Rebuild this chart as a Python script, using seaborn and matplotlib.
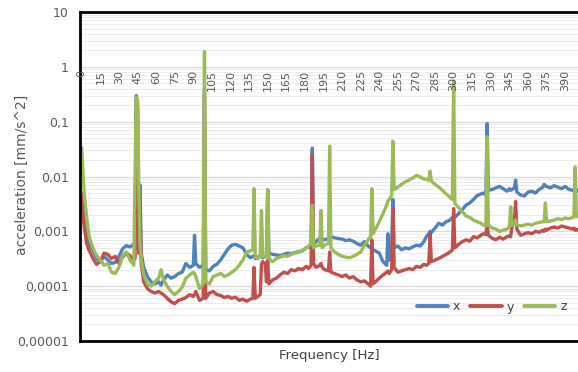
import matplotlib
matplotlib.use('Agg')
import pandas as pd
import matplotlib.pyplot as plt
import seaborn as sns
from matplotlib.lines import Line2D
from matplotlib.transforms import offset_copy

# frequency points [Hz]
freq = [0, 1, 2, 4, 6, 9, 12, 15, 18, 21,
        24, 27, 30, 33, 36, 39, 42, 43, 44, 45,
        46, 47, 48, 50, 53, 56, 59, 62, 64, 66,
        69, 72, 75, 78, 81, 84, 87, 90, 91, 92,
        95, 98, 99, 100, 103, 106, 109, 112, 115, 118,
        121, 124, 127, 130, 133, 136, 138, 139, 140, 142,
        144, 145, 146, 148, 149, 150, 151, 154, 157, 160,
        163, 166, 169, 172, 175, 178, 181, 183, 185, 186,
        187, 189, 192, 193, 194, 196, 199, 200, 201, 204,
        207, 210, 213, 216, 219, 222, 225, 228, 231, 233,
        234, 235, 237, 240, 243, 246, 247, 248, 250, 251,
        252, 255, 258, 261, 264, 267, 270, 273, 276, 278,
        280, 281, 282, 285, 288, 291, 294, 297, 299, 300,
        301, 304, 307, 310, 313, 316, 319, 322, 324, 326,
        327, 328, 331, 334, 337, 340, 343, 345, 346, 347,
        349, 350, 351, 354, 357, 360, 363, 366, 369, 372,
        373, 374, 375, 378, 381, 384, 387, 390, 393, 396,
        397, 398, 399, 400]

# acceleration x [mm/s^2]
acc_x = [5e-3, 2.5e-3, 1.5e-3, 8e-4, 6e-4, 4.5e-4, 3.2e-4, 2.8e-4, 3.5e-4, 3.0e-4,
         2.6e-4, 2.7e-4, 3.5e-4, 4.8e-4, 5.5e-4, 5.2e-4, 5.8e-4, 5.0e-4, 0.3, 0.22,
         6e-4, 7e-3, 4e-4, 2.2e-4, 1.5e-4, 1.2e-4, 1.1e-4, 1.2e-4, 1.05e-4, 1.3e-4,
         1.6e-4, 1.4e-4, 1.5e-4, 1.7e-4, 1.8e-4, 2.6e-4, 2.2e-4, 2.4e-4, 8.5e-4, 2.6e-4,
         2.2e-4, 2.4e-4, 0.4, 2.0e-4, 1.9e-4, 2.3e-4, 2.5e-4, 3.0e-4, 3.8e-4, 4.8e-4,
         5.6e-4, 5.8e-4, 5.4e-4, 5.0e-4, 3.8e-4, 3.3e-4, 3.5e-4, 3.6e-4, 3.2e-4, 3.4e-4,
         3.6e-4, 3.8e-4, 3.3e-4, 3.5e-4, 3.6e-4, 5.7e-3, 4.0e-4, 3.8e-4, 3.7e-4, 3.6e-4,
         3.8e-4, 4.0e-4, 3.9e-4, 4.1e-4, 4.3e-4, 4.4e-4, 5.0e-4, 5.2e-4, 5.0e-4, 0.033,
         6.0e-4, 6.5e-4, 7.5e-4, 8.0e-4, 7.2e-4, 7.0e-4, 7.4e-4, 7.8e-4, 8.0e-4, 7.6e-4,
         7.4e-4, 7.2e-4, 6.8e-4, 7.0e-4, 6.6e-4, 6.0e-4, 5.6e-4, 6.5e-4, 5.4e-4, 5.0e-4,
         4.8e-4, 4.6e-4, 4.4e-4, 4.0e-4, 2.8e-4, 2.4e-4, 9.0e-4, 3.0e-4, 4.0e-4, 3.8e-3,
         5.0e-4, 5.4e-4, 4.6e-4, 5.0e-4, 4.8e-4, 5.2e-4, 5.6e-4, 5.4e-4, 6.5e-4, 8.0e-4,
         9.0e-4, 1.0e-3, 9.5e-4, 1.15e-3, 1.4e-3, 1.3e-3, 1.5e-3, 1.6e-3, 1.8e-3, 1.9e-3,
         1.8e-3, 2.1e-3, 2.5e-3, 3.0e-3, 3.3e-3, 3.8e-3, 4.5e-3, 4.8e-3, 5.0e-3, 4.6e-3,
         0.092, 5.6e-3, 5.8e-3, 6.2e-3, 6.6e-3, 6.0e-3, 5.4e-3, 6.0e-3, 5.6e-3, 5.8e-3,
         6.2e-3, 8.6e-3, 5.2e-3, 4.6e-3, 4.4e-3, 5.2e-3, 5.4e-3, 5.0e-3, 5.8e-3, 6.4e-3,
         7.2e-3, 6.8e-3, 6.6e-3, 6.2e-3, 6.8e-3, 6.4e-3, 6.0e-3, 6.6e-3, 5.8e-3, 5.6e-3,
         5.8e-3, 5.6e-3, 5.8e-3, 5.4e-3]

# acceleration y [mm/s^2]
acc_y = [4.5e-3, 2e-3, 1.2e-3, 6e-4, 4.5e-4, 3.2e-4, 2.5e-4, 2.8e-4, 4.0e-4, 3.8e-4,
         3.2e-4, 3.5e-4, 2.6e-4, 3.4e-4, 4.0e-4, 3.6e-4, 3.0e-4, 3.2e-4, 0.25, 0.18,
         4e-4, 3.5e-3, 2.5e-4, 1.2e-4, 9e-5, 8e-5, 7.5e-5, 8e-5, 7.5e-5, 7e-5,
         6e-5, 5.2e-5, 4.8e-5, 5.5e-5, 5.8e-5, 6.2e-5, 7e-5, 6.5e-5, 7e-5, 8e-5,
         5.5e-5, 6e-5, 0.3, 6e-5, 7.5e-5, 8e-5, 7e-5, 6.8e-5, 6.2e-5, 6.5e-5,
         6e-5, 6.3e-5, 5.5e-5, 5.8e-5, 5.3e-5, 5.8e-5, 6e-5, 2.2e-4, 6e-5, 6.5e-5,
         7e-5, 2.5e-4, 2.8e-4, 2.6e-4, 1.2e-4, 3.0e-4, 1.1e-4, 1.3e-4, 1.4e-4, 1.6e-4,
         1.8e-4, 1.7e-4, 2.0e-4, 1.9e-4, 2.1e-4, 2.0e-4, 2.3e-4, 2.1e-4, 2.4e-4, 0.026,
         2.6e-4, 2.2e-4, 2.4e-4, 2.6e-4, 2.2e-4, 2.0e-4, 1.9e-4, 4.2e-4, 1.8e-4, 1.7e-4,
         1.6e-4, 1.5e-4, 1.6e-4, 1.4e-4, 1.5e-4, 1.3e-4, 1.2e-4, 1.25e-4, 1.1e-4, 1.0e-4,
         7e-4, 1.1e-4, 1.2e-4, 1.4e-4, 1.6e-4, 1.8e-4, 1.9e-4, 1.7e-4, 2.0e-4, 2.6e-3,
         2.2e-4, 1.8e-4, 1.9e-4, 2.0e-4, 2.1e-4, 2.0e-4, 2.3e-4, 2.2e-4, 2.5e-4, 2.4e-4,
         2.6e-4, 9e-4, 2.8e-4, 3.0e-4, 3.2e-4, 3.5e-4, 3.8e-4, 4.2e-4, 4.6e-4, 2.6e-3,
         5.0e-4, 5.8e-4, 6.5e-4, 7.0e-4, 6.6e-4, 8.0e-4, 7.6e-4, 8.5e-4, 9e-4, 8.8e-4,
         1.4e-3, 8.5e-4, 7.5e-4, 7.0e-4, 7.8e-4, 7.2e-4, 8.0e-4, 8.2e-4, 8.0e-4, 1.2e-3,
         1.6e-3, 3.5e-3, 1.1e-3, 8.5e-4, 9.0e-4, 9.5e-4, 9.0e-4, 1.0e-3, 9.6e-4, 1.05e-3,
         1.0e-3, 1.1e-3, 1.05e-3, 1.15e-3, 1.2e-3, 1.15e-3, 1.25e-3, 1.2e-3, 1.15e-3, 1.1e-3,
         1.15e-3, 1.05e-3, 1.1e-3, 1.05e-3]

# acceleration z [mm/s^2]
acc_z = [3.3e-2, 1.2e-2, 5e-3, 1.8e-3, 8e-4, 5e-4, 3.6e-4, 3.0e-4, 2.4e-4, 2.6e-4,
         1.8e-4, 1.7e-4, 2.2e-4, 3.6e-4, 4.2e-4, 3.0e-4, 2.4e-4, 0.01, 0.28, 0.25,
         8e-3, 6e-4, 3.0e-4, 1.6e-4, 1.1e-4, 1.0e-4, 1.2e-4, 1.4e-4, 2.0e-4, 1.3e-4,
         1.0e-4, 8.0e-5, 7.0e-5, 8.0e-5, 9.5e-5, 1.4e-4, 1.6e-4, 1.8e-4, 1.7e-4, 1.5e-4,
         9e-5, 1.1e-4, 1.9, 1.2e-4, 1.1e-4, 1.5e-4, 1.6e-4, 1.7e-4, 1.5e-4, 1.6e-4,
         1.8e-4, 2.0e-4, 2.4e-4, 3.0e-4, 4.2e-4, 4.4e-4, 4.6e-4, 6.0e-3, 3.4e-4, 3.2e-4,
         3.5e-4, 2.4e-3, 3.5e-4, 3.4e-4, 3.6e-4, 5.6e-3, 3.2e-4, 2.8e-4, 3.2e-4, 3.4e-4,
         3.6e-4, 3.5e-4, 3.8e-4, 4.0e-4, 4.2e-4, 4.5e-4, 5.0e-4, 5.4e-4, 6.0e-4, 3.0e-3,
         5.0e-4, 5.4e-4, 5.6e-4, 2.4e-3, 5.0e-4, 5.6e-4, 6.0e-4, 3.6e-2, 5.0e-4, 4.2e-4,
         3.8e-4, 3.5e-4, 3.4e-4, 3.3e-4, 3.5e-4, 3.8e-4, 4.2e-4, 5.5e-4, 7.0e-4, 8.0e-4,
         6.0e-3, 9.0e-4, 1.1e-3, 1.5e-3, 2.1e-3, 3.0e-3, 3.6e-3, 3.8e-3, 4.5e-3, 4.4e-2,
         5.8e-3, 6.4e-3, 7.2e-3, 8.0e-3, 8.6e-3, 9.4e-3, 1.05e-2, 9.8e-3, 9.0e-3, 8.8e-3,
         8.6e-3, 1.25e-2, 8.2e-3, 7.2e-3, 6.4e-3, 5.6e-3, 4.8e-3, 4.2e-3, 3.8e-3, 0.55,
         3.2e-3, 2.7e-3, 2.3e-3, 1.9e-3, 1.8e-3, 1.6e-3, 1.5e-3, 1.4e-3, 1.3e-3, 1.25e-3,
         0.053, 1.3e-3, 1.15e-3, 1.1e-3, 1.0e-3, 1.05e-3, 1.1e-3, 1.2e-3, 2.8e-3, 1.3e-3,
         1.4e-3, 1.6e-3, 1.3e-3, 1.25e-3, 1.3e-3, 1.35e-3, 1.3e-3, 1.4e-3, 1.45e-3, 1.5e-3,
         1.5e-3, 3.3e-3, 1.5e-3, 1.55e-3, 1.6e-3, 1.7e-3, 1.65e-3, 1.75e-3, 1.7e-3, 1.8e-3,
         1.8e-3, 1.5e-2, 1.9e-3, 1.85e-3]

series_names = ['x', 'y', 'z']
colors = ['#4F81BD', '#C0504D', '#9BBB59']
x_ticks = [0, 15, 30, 45, 60, 75, 90, 105, 120, 135, 150, 165, 180, 195,
           210, 225, 240, 255, 270, 285, 300, 315, 330, 345, 360, 375, 390]
y_ticks = [10, 1, 0.1, 0.01, 0.001, 0.0001, 0.00001]
y_tick_labels = ['10', '1', '0,1', '0,01', '0,001', '0,0001', '0,00001']

n = len(freq)
df = pd.DataFrame({
    'freq': freq * 3,
    'acc': acc_x + acc_y + acc_z,
    'axis': ['x'] * n + ['y'] * n + ['z'] * n,
})

sns.set_style('white')
plt.rcParams['font.family'] = ['DejaVu Sans']

fig = plt.figure(figsize=(5.78, 3.72), dpi=100)
ax = fig.add_axes([80 / 578, 31 / 372, 510 / 578, 329 / 372])

sns.lineplot(data=df, x='freq', y='acc', hue='axis', palette=colors,
             linewidth=2.4, estimator=None, legend=False, ax=ax)

ax.set_yscale('log')
ax.set_ylim(1e-5, 10)
ax.set_xlim(-1.4, 410)
ax.set_yticks(y_ticks)
ax.set_yticklabels(y_tick_labels, fontsize=9, color='#595959')
ax.set_xticks([])
ax.tick_params(axis='y', length=0, pad=8)
ax.yaxis.grid(True, which='major', color='#d9d9d9', linewidth=0.9)
ax.yaxis.grid(True, which='minor', color='#ececec', linewidth=0.7)
ax.set_axisbelow(True)

for side in ['left', 'top', 'bottom']:
    ax.spines[side].set_linewidth(2.0)
    ax.spines[side].set_color('black')
ax.spines['right'].set_visible(False)

# category labels sit on the horizontal axis crossing at 1
lab_tr = offset_copy(ax.transData, fig=fig, x=0, y=-3, units='dots')
for t in x_ticks:
    ax.text(t, 1, str(t), rotation=90, ha='center', va='top', fontsize=8,
            color='#595959', transform=lab_tr)

ax.set_xlabel('')
ax.set_ylabel('')
fig.text(329 / 578, 1 - 356 / 372, 'Frequency [Hz]', ha='center', va='center',
         fontsize=9.5, color='#404040')
fig.text(22 / 578, 1 - 175 / 372, 'acceleration [mm/s^2]', ha='center', va='center',
         rotation=90, fontsize=10, color='#595959')

handles = [Line2D([0], [0], color=c, linewidth=2.8) for c in colors]
fig.legend(handles, series_names, loc='center right', ncol=3, frameon=False,
           bbox_to_anchor=(578 / 578, 1 - 307 / 372), handlelength=2.5,
           handletextpad=0.4, columnspacing=0.8, fontsize=9,
           labelcolor='#404040')

fig.savefig('out.png', dpi=100)
plt.close(fig)
